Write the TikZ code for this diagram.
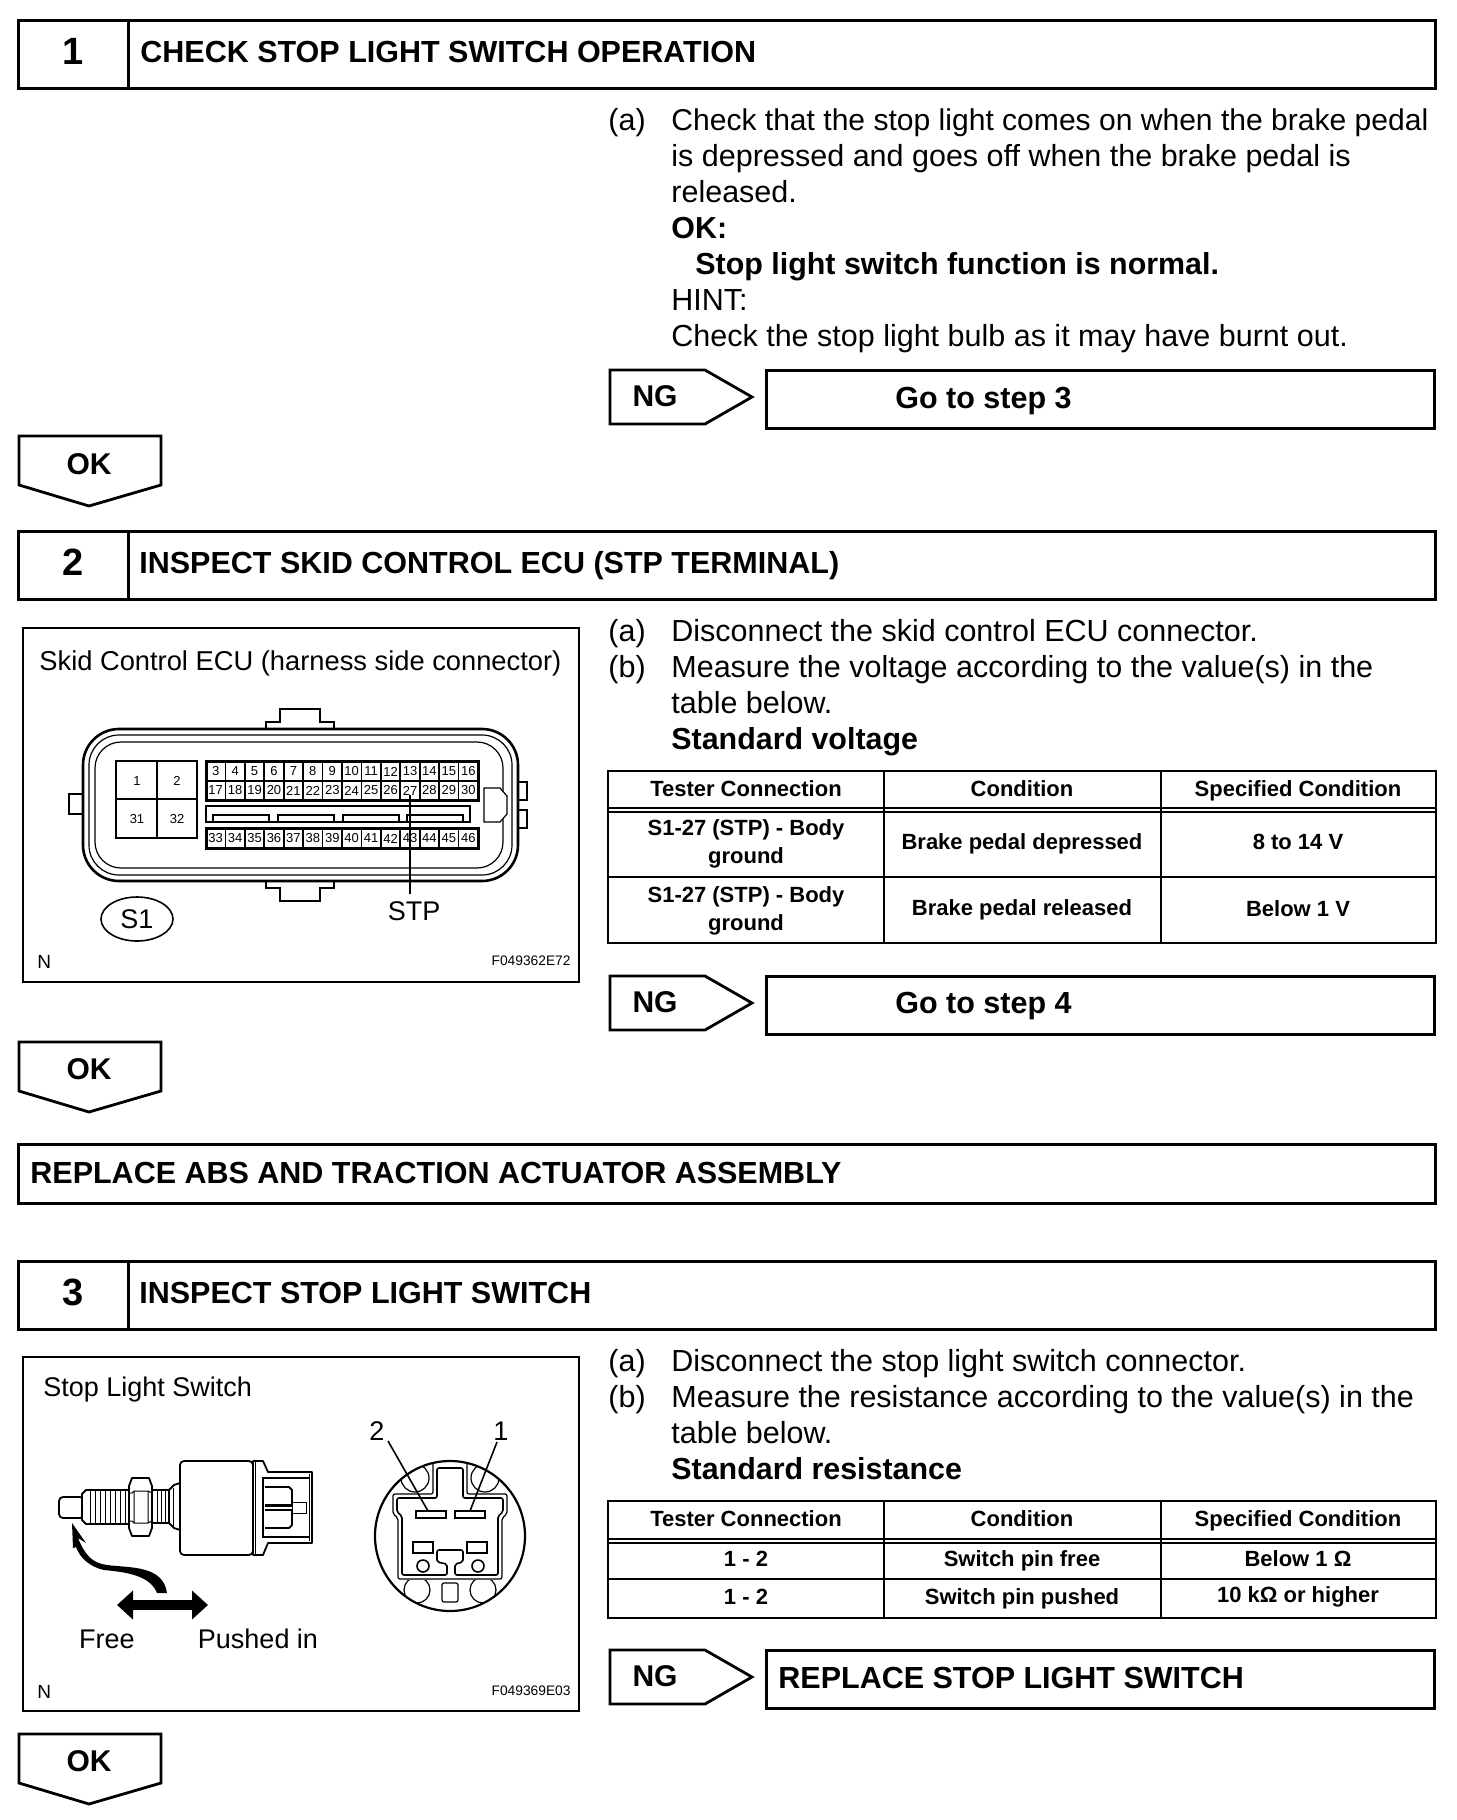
\documentclass[tikz,border=0pt]{standalone}
\usepackage{fontspec}
\setmainfont{Liberation Sans}
\usetikzlibrary{arrows.meta,calc,shapes.geometric}
\tikzset{
 x=0.5pt,y=-0.5pt,
 boxline/.style={draw=black,line width=1.5pt,fill=white,rectangle,inner sep=0pt},
 panel/.style={draw=black,line width=1.1pt,rectangle,inner sep=0pt},
 body/.style={anchor=base west,inner sep=0pt,font=\fontsize{15.25}{16}\selectfont},
 bodyb/.style={anchor=base west,inner sep=0pt,font=\fontsize{15.2}{16}\selectfont\bfseries},
 hdr/.style={anchor=base west,inner sep=0pt,font=\fontsize{15.25}{16}\selectfont\bfseries},
 num/.style={anchor=center,inner sep=0pt,font=\fontsize{19}{20}\selectfont\bfseries},
 tag/.style={anchor=center,inner sep=0pt,font=\fontsize{15}{16}\selectfont\bfseries},
 tcell/.style={anchor=center,inner sep=0pt,align=center,font=\fontsize{11}{13.9}\selectfont\bfseries},
 lab/.style={anchor=base west,inner sep=0pt,font=\fontsize{13.5}{15}\selectfont},
 code/.style={anchor=base east,inner sep=0pt,font=\fontsize{6.9}{7}\selectfont},
 pinnum/.style={anchor=center,inner sep=0pt,font=\fontsize{6.5}{7}\selectfont},
 tl/.style={line width=0.7pt,draw=black},
 sw/.style={line width=0.9pt,draw=black,fill=white,line join=round},
 thin1/.style={line width=0.5pt,draw=black},
}
\newcommand{\okshape}[1]{\draw[line width=1.4pt,fill=white,line join=miter] (19,#1) -- (161,#1) -- (161,#1+49) -- (89,#1+70) -- (19,#1+49) -- cycle;}
\newcommand{\ngshape}[1]{\draw[line width=1.4pt,fill=white] (610,#1) -- (705,#1) -- (752,#1+27) -- (705,#1+54) -- (610,#1+54) -- cycle;}
\begin{document}
\begin{tikzpicture}
\useasboundingbox (0,0) rectangle (1456,1820);
\fill[white] (0,0) rectangle (1456,1820);

% ---- header 1
\node[boxline,anchor=north west,minimum width=708.5pt,minimum height=34pt] (h1) at (17,19) {};
\draw[line width=1.5pt] (h1.north west -| 128,0) -- (h1.south west -| 128,0);
\node[num] (h1n) at (73,51) {1};
\node[hdr] (h1t) at (140,62) {CHECK STOP LIGHT SWITCH OPERATION};
\node[body] (t1a) at (608,130) {(a)};
\node[body,font=\fontsize{15.03}{16}\selectfont] (t1b) at (671,130) {Check that the stop light comes on when the brake pedal};
\node[body] (t1c) at (671,166) {is depressed and goes off when the brake pedal is};
\node[body] (t1d) at (671,202) {released.};
\node[bodyb] (t1e) at (671,238) {OK:};
\node[bodyb] (t1f) at (695,274) {Stop light switch function is normal.};
\node[body] (t1g) at (671,310) {HINT:};
\node[body] (t1h) at (671,346) {Check the stop light bulb as it may have burnt out.};
\ngshape{370}
\node[tag] (ng1) at (655,396) {NG};
\node[boxline,anchor=north west,minimum width=334pt,minimum height=29pt] (go1) at (765,369) {};
\node[hdr] (go1t) at (895,408) {Go to step 3};
\okshape{436}
\node[tag] (ok1) at (89,464) {OK};

% ---- header 2
\node[boxline,anchor=north west,minimum width=708.5pt,minimum height=34pt] (h2) at (17,530) {};
\draw[line width=1.5pt] (h2.north west -| 128,0) -- (h2.south west -| 128,0);
\node[num] (h2n) at (73,562) {2};
\node[hdr] (h2t) at (139,573) {INSPECT SKID CONTROL ECU (STP TERMINAL)};

% ECU panel
\node[panel,anchor=north west,minimum width=278pt,minimum height=177pt] (p2) at (22,627) {};
\node[lab,font=\fontsize{13.65}{15}\selectfont] (p2t) at (39,670) {Skid Control ECU (harness side connector)};
% tabs
\draw[line width=1.1pt,fill=white] (266,729) -- (266,722) -- (280,722) -- (280,709) -- (320,709) -- (320,722) -- (334,722) -- (334,729);
\draw[line width=1.1pt,fill=white] (266,881) -- (266,888) -- (280,888) -- (280,901) -- (320,901) -- (320,888) -- (334,888) -- (334,881);
\draw[line width=1.3pt,fill=white] (83,794) -- (69,794) -- (69,814) -- (83,814);
\draw[line width=1.3pt,fill=white] (518,782) -- (527,782) -- (527,800) -- (518,800);
\draw[line width=1.3pt,fill=white] (518,810) -- (527,810) -- (527,828) -- (518,828);
% shells
\draw[line width=1.3pt,rounded corners=18pt] (83,729) rectangle (518,881);
\draw[line width=0.6pt,rounded corners=15pt] (89,735) rectangle (512,875);
\draw[line width=0.6pt,rounded corners=13pt] (95,742) rectangle (503,868);
% large block
\draw[line width=1.4pt] (116,761) rectangle (197,838);
\draw[line width=1.4pt] (157,761) -- (157,838) (116,799) -- (197,799);
\node[pinnum] (b1) at (137,781) {1};
\node[pinnum] (b2) at (177,781) {2};
\node[pinnum] (b31) at (137,819) {31};
\node[pinnum] (b32) at (177,819) {32};
% small pins
\foreach \i in {0,...,13}{
 \pgfmathsetmacro{\xa}{206+\i*19.43}
 \pgfmathsetmacro{\xc}{\xa+9.7}
 \pgfmathtruncatemacro{\na}{3+\i}
 \pgfmathtruncatemacro{\nb}{17+\i}
 \pgfmathtruncatemacro{\nc}{33+\i}
 \draw[line width=0.9pt] (\xa,761) rectangle ++(19.43,39);
 \draw[line width=0.9pt] (\xa,828) rectangle ++(19.43,20);
 \node[pinnum] (pin\na) at (\xc,771.5) {\na};
 \node[pinnum] (pin\nb) at (\xc,790.5) {\nb};
 \node[pinnum] (pin\nc) at (\xc,838.5) {\nc};
}
\draw[line width=0.6pt] (206,781) -- (478,781);
\draw[line width=1.5pt] (206,761) rectangle (478,800);
\draw[line width=1.5pt] (206,828) rectangle (478,848);
% strip
\draw[line width=0.6pt] (206,806) rectangle (470,822);
\foreach \a/\b in {213/269,278/334,343/399,407/463}{
 \draw[line width=0.6pt] (\a,822) -- (\a,815) -- (\b,815) -- (\b,822);
}
% latch
\draw[line width=0.6pt,fill=white] (484,788) -- (500,788) -- (507,796) -- (507,814) -- (500,822) -- (484,822) -- cycle;
% STP
\node[lab,anchor=center] (stp) at (414,911) {STP};
\coordinate (stpe) at (410,894);
\draw[line width=0.9pt] (stpe) -- (pin27.south -| stpe);
\node[draw,ellipse,line width=0.8pt,minimum width=36pt,minimum height=22pt,inner sep=0pt,font=\fontsize{13.5}{15}\selectfont] (s1) at (137,919) {S1};
\node[lab,anchor=base west,font=\fontsize{9.5}{11}\selectfont] (n2) at (37,968) {N};
\node[code] (c2) at (571,965) {F049362E72};

% text 2
\node[body] (t2a) at (608,641) {(a)};
\node[body] (t2b) at (671,641) {Disconnect the skid control ECU connector.};
\node[body] (t2c) at (608,677) {(b)};
\node[body] (t2d) at (671,677) {Measure the voltage according to the value(s) in the};
\node[body] (t2e) at (671,713) {table below.};
\node[bodyb] (t2f) at (671,749) {Standard voltage};
% table 1
\draw[tl] (608,771) rectangle (1436,943);
\draw[tl] (884,771) -- (884,943) (1161,771) -- (1161,943);
\draw[tl] (608,808) -- (1436,808) (608,812) -- (1436,812) (608,877) -- (1436,877);
\node[tcell] (a1) at (746,789) {Tester Connection};
\node[tcell] (a2) at (1022,789) {Condition};
\node[tcell] (a3) at (1298,791) {Specified Condition};
\node[tcell] (a4) at (746,844) {S1-27 (STP) - Body\\ground};
\node[tcell] (a5) at (1022,844) {Brake pedal depressed};
\node[tcell] (a6) at (1298,842) {8 to 14 V};
\node[tcell] (a7) at (746,911) {S1-27 (STP) - Body\\ground};
\node[tcell] (a8) at (1022,910) {Brake pedal released};
\node[tcell] (a9) at (1298,909) {Below 1 V};
\ngshape{976}
\node[tag] (ng2) at (655,1002) {NG};
\node[boxline,anchor=north west,minimum width=334pt,minimum height=29pt] (go2) at (765,975) {};
\node[hdr] (go2t) at (895,1013) {Go to step 4};
\okshape{1042}
\node[tag] (ok2) at (89,1069) {OK};

% replace
\node[boxline,anchor=north west,minimum width=708.5pt,minimum height=29.5pt] (rep) at (17,1143) {};
\node[hdr] (rept) at (30,1183) {REPLACE ABS AND TRACTION ACTUATOR ASSEMBLY};

% ---- header 3
\node[boxline,anchor=north west,minimum width=708.5pt,minimum height=34pt] (h3) at (17,1260) {};
\draw[line width=1.5pt] (h3.north west -| 128,0) -- (h3.south west -| 128,0);
\node[num] (h3n) at (73,1292) {3};
\node[hdr] (h3t) at (139,1303) {INSPECT STOP LIGHT SWITCH};

% switch panel
\node[panel,anchor=north west,minimum width=278pt,minimum height=177pt] (p3) at (22,1356) {};
\node[lab] (p3t) at (43,1396) {Stop Light Switch};
% switch body
\draw[sw,rounded corners=2pt] (59,1497) rectangle (84,1518);
\draw[sw] (82,1494) -- (86,1490) -- (130,1490) -- (130,1524) -- (86,1524) -- (82,1520) -- cycle;
\foreach \x in {90,95,100,105,110,115,120,125}{\draw[thin1] (\x,1490) -- (\x,1524);}
\draw[sw] (152,1490) -- (169,1490) -- (169,1523) -- (152,1523) -- cycle;
\foreach \x in {157,161,165}{\draw[thin1] (\x,1490) -- (\x,1523);}
\draw[sw] (129,1486) -- (132,1478) -- (149,1478) -- (152,1486) -- (152,1528) -- (149,1536) -- (132,1536) -- (129,1528) -- cycle;
\draw[thin1] (129,1493) -- (132,1493) -- (134,1491) -- (148,1491) -- (152,1493) (129,1521) -- (132,1521) -- (134,1523) -- (148,1523) -- (152,1521) (134,1491) -- (134,1523) (148,1491) -- (148,1523);
\draw[sw] (169,1490) -- (174,1485) -- (180,1483) -- (180,1530) -- (174,1528) -- (169,1523) -- cycle;
\draw[thin1] (173,1488) -- (173,1526);
\draw[sw] (253,1461) -- (263,1461) -- (268,1472) -- (312,1472) -- (312,1543) -- (268,1543) -- (263,1555) -- (253,1555) -- cycle;
\draw[sw,rounded corners=2pt] (180,1461) -- (253,1461) -- (253,1555) -- (180,1555) -- cycle;
\draw[thin1] (255,1461) -- (255,1555);
\draw[line width=0.5pt] (309,1474) -- (309,1541);
\draw[line width=1.1pt] (309,1478) -- (263,1478) -- (263,1537) -- (309,1537);
\draw[thin1] (265,1506) -- (306,1506) (265,1509) -- (292,1509);
\draw[sw,line width=0.5pt] (292,1502) rectangle (306,1513);
\draw[sw] (265,1487) -- (289,1487) -- (292,1490) -- (292,1505) -- (265,1505);
\draw[sw] (265,1510) -- (292,1510) -- (292,1525) -- (289,1528) -- (265,1528);
% arrows
\coordinate (ce) at (72,1523);
\fill (ce) -- (86,1543) -- (78,1538) .. controls (85,1555) and (92,1563) .. (107,1565) .. controls (130,1568) and (163,1565) .. (167,1593) -- (157,1593) .. controls (150,1575) and (125,1572) .. (104,1570) .. controls (90,1567) and (80,1558) .. (76,1547) -- (73,1548) -- cycle;
\coordinate (da) at (117,1605);
\coordinate (db) at (208,1605);
\draw[line width=5pt,{Triangle[length=8pt,width=14pt]}-{Triangle[length=8pt,width=14pt]}] (da) -- (db);
\node[lab,anchor=center] (free) at (107,1639) {Free};
\node[lab,anchor=center] (pin) at (258,1639) {Pushed in};
% connector face
\draw[line width=1.1pt] (450,1536) circle (75);
\begin{scope}
\clip (450,1536) circle (75);
\draw[line width=0.6pt] (415,1478) circle (14) (485,1478) circle (14) (417,1590) circle (13) (483,1590) circle (13);
\fill[white] (402,1500) rectangle (498,1580);
\fill[white] (437,1465) rectangle (463,1500);
\draw[line width=0.6pt,rounded corners=1pt] (433,1460) -- (433,1494) -- (393,1494) -- (393,1514) -- (398,1518) -- (398,1579) -- (502,1579) -- (502,1518) -- (507,1514) -- (507,1494) -- (467,1494) -- (467,1460);
\draw[line width=0.8pt,rounded corners=1pt] (437,1468) -- (463,1468) -- (463,1498) -- (503,1498) -- (503,1512) -- (498,1516) -- (498,1575) -- (455,1575) -- (455,1564) -- (463,1562) -- (463,1550) -- (437,1550) -- (437,1562) -- (447,1564) -- (447,1575) -- (402,1575) -- (402,1516) -- (397,1512) -- (397,1498) -- (437,1498) -- cycle;
\draw[line width=0.6pt,rounded corners=1pt] (442,1583) rectangle (458,1602);
\end{scope}
\draw[line width=0.8pt] (423,1566) circle (6) (478,1566) circle (6);
\draw[line width=1.1pt] (416,1511) rectangle (446,1518);
\draw[line width=1.1pt] (455,1511) rectangle (485,1518);
\draw[line width=1.4pt] (413,1542) rectangle (433,1553);
\draw[line width=1.4pt] (467,1542) rectangle (487,1553);
\coordinate (t2) at (428,1511);
\coordinate (t1) at (470,1511);
\node[lab,anchor=center] (l2) at (377,1431) {2};
\node[lab,anchor=center] (l1) at (501,1431) {1};
\draw[line width=0.8pt] (l2) ++(11,10) -- (t2);
\draw[line width=0.8pt] (l1) ++(-4,11) -- (t1);
\node[lab,anchor=base west,font=\fontsize{9.5}{11}\selectfont] (n3) at (37,1698) {N};
\node[code] (c3) at (571,1695) {F049369E03};

% text 3
\node[body] (t3a) at (608,1371) {(a)};
\node[body] (t3b) at (671,1371) {Disconnect the stop light switch connector.};
\node[body] (t3c) at (608,1407) {(b)};
\node[body] (t3d) at (671,1407) {Measure the resistance according to the value(s) in the};
\node[body] (t3e) at (671,1443) {table below.};
\node[bodyb] (t3f) at (671,1479) {Standard resistance};
% table 3
\draw[tl] (608,1501) rectangle (1436,1618);
\draw[tl] (884,1501) -- (884,1618) (1161,1501) -- (1161,1618);
\draw[tl] (608,1539) -- (1436,1539) (608,1543) -- (1436,1543) (608,1579) -- (1436,1579);
\node[tcell] (b1t) at (746,1519) {Tester Connection};
\node[tcell] (b2t) at (1022,1519) {Condition};
\node[tcell] (b3t) at (1298,1521) {Specified Condition};
\node[tcell] (b4t) at (746,1559) {1 - 2};
\node[tcell] (b5t) at (1022,1561) {Switch pin free};
\node[tcell] (b6t) at (1298,1559) {Below 1 Ω};
\node[tcell] (b7t) at (746,1597) {1 - 2};
\node[tcell] (b8t) at (1022,1599) {Switch pin pushed};
\node[tcell] (b9t) at (1298,1597) {10 kΩ or higher};
\ngshape{1650}
\node[tag] (ng3) at (655,1676) {NG};
\node[boxline,anchor=north west,minimum width=334pt,minimum height=29pt] (go3) at (765,1649) {};
\node[hdr] (go3t) at (778,1688) {REPLACE STOP LIGHT SWITCH};
\okshape{1734}
\node[tag] (ok3) at (89,1761) {OK};
\end{tikzpicture}
\end{document}
